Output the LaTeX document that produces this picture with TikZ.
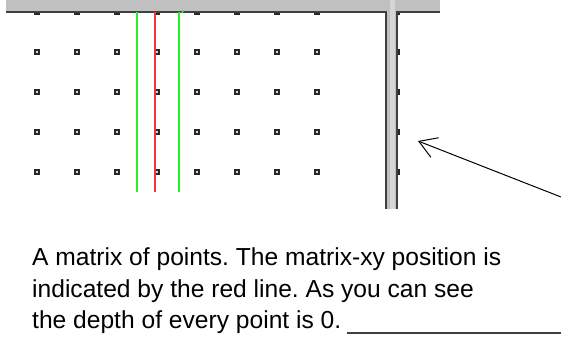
\documentclass[tikz,border=0pt]{standalone}
\usepackage{fontspec}
\setmainfont{Liberation Sans}
\usetikzlibrary{arrows.meta}
\definecolor{wingray}{RGB}{192,192,192}
\definecolor{winlight}{RGB}{214,214,214}
\definecolor{windark}{RGB}{64,64,64}
\definecolor{dotdark}{RGB}{40,40,40}
\definecolor{brightgreen}{RGB}{40,240,40}
\definecolor{brightred}{RGB}{250,50,50}
\tikzset{
  griddot/.style={draw=dotdark, fill=winlight, line width=1.5pt},
  frameline/.style={draw=windark, line width=2pt},
  guide/.style={line width=2pt},
  caption/.style={anchor=base west, inner sep=0pt, font=\fontsize{24.6pt}{31.7pt}\selectfont\frenchspacing, text=black},
  pointer/.style={draw=black, line width=1pt, -{Straight Barb[length=17pt,width=21pt,line width=1pt]}}
}
\begin{document}
\begin{tikzpicture}[x=1pt,y=-1pt]
\useasboundingbox (0,0) rectangle (561,339);
% matrix of points
\foreach \c in {37,77,117,157,197,237,277,317,397}{
  \foreach \r in {12,52,92,132,172}{
    \draw[griddot] (\c-2,\r-2) rectangle (\c+2,\r+2);
  }
}
% top bar and splitter
\fill[wingray] (6,0) rectangle (440,11);
\fill[wingray] (386,0) rectangle (398,209);
\fill[winlight] (389.5,0) rectangle (394.5,209);
\draw[frameline] (6,12) -- (386,12) -- (386,209);
\draw[frameline] (397,209) -- (397,12) -- (440,12);
% guide lines
\draw[guide, brightgreen] (137,12) -- (137,192);
\draw[guide, brightgreen] (179,12) -- (179,192);
\draw[guide, brightred] (155,12) -- (155,192);
\draw[brightgreen, line width=1.2pt] (181.5,13) -- (184,10.5);
% arrow
\coordinate (tail) at (561,197);
\coordinate (tip) at (418,141);
\draw[pointer] (tail) -- (tip);
% caption
\node[caption] (t1) at (32,265) {A matrix of points. The matrix-xy position is};
\node[caption] (t2) at (32,297) {indicated by the red line. As you can see};
\node[caption] (t3) at (32,328.5) {the depth of every point is 0.};
\coordinate (u1) at (347,332.5);
\coordinate (u2) at (561,332.5);
\draw[windark, line width=2pt] (u1) -- (u2);
\end{tikzpicture}
\end{document}
